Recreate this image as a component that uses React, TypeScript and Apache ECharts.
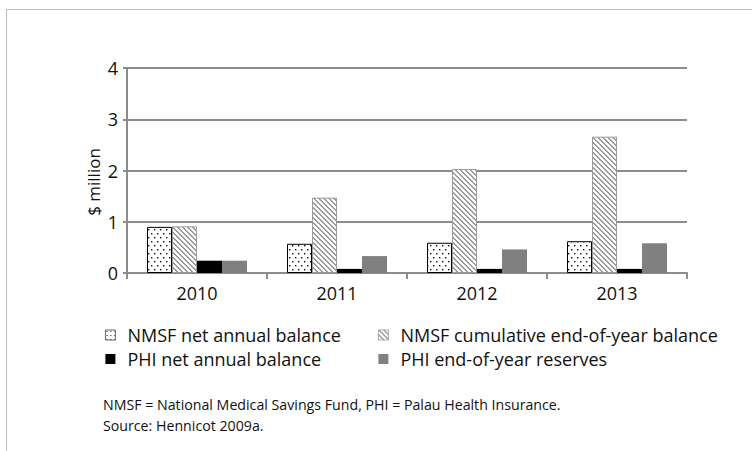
import React, { useEffect, useRef } from "react";
import * as echarts from "echarts";

const years = ["2010", "2011", "2012", "2013"];
const nmsfNet = [0.9, 0.57, 0.59, 0.62];
const nmsfCum = [0.91, 1.47, 2.03, 2.66];
const phiNet = [0.24, 0.08, 0.08, 0.08];
const phiRes = [0.24, 0.33, 0.46, 0.58];
const seriesNames = [
  "NMSF net annual balance",
  "NMSF cumulative end-of-year balance",
  "PHI net annual balance",
  "PHI end-of-year reserves",
];
const footLines = [
  "NMSF = National Medical Savings Fund, PHI = Palau Health Insurance.",
  "Source: Hennicot 2009a.",
];

const FONT = "'Open Sans', 'Noto Sans', sans-serif";
const TEXT = "#111";

function dotCanvas() {
  const c = document.createElement("canvas");
  c.width = 6;
  c.height = 8;
  const ctx = c.getContext("2d")!;
  ctx.fillStyle = "#fff";
  ctx.fillRect(0, 0, 6, 8);
  ctx.fillStyle = "#111";
  ctx.fillRect(1, 1, 1.4, 1.4);
  ctx.fillRect(4, 5, 1.4, 1.4);
  return c;
}

function hatchCanvas() {
  const n = 5;
  const c = document.createElement("canvas");
  c.width = n;
  c.height = n;
  const ctx = c.getContext("2d")!;
  ctx.fillStyle = "#fff";
  ctx.fillRect(0, 0, n, n);
  ctx.fillStyle = "#9a9a9a";
  for (let i = 0; i < n; i++) {
    ctx.fillRect(i, i, 1, 1);
    ctx.fillRect((i + 1) % n, i, 1, 1);
  }
  return c;
}

function legendDotCanvas() {
  const c = document.createElement("canvas");
  c.width = 4;
  c.height = 4;
  const ctx = c.getContext("2d")!;
  ctx.fillStyle = "#fff";
  ctx.fillRect(0, 0, 4, 4);
  ctx.fillStyle = "#222";
  ctx.fillRect(1, 1, 1, 1);
  return c;
}

export default function App() {
  const ref = useRef<HTMLDivElement>(null);
  useEffect(() => {
    if (!ref.current) return;
    const chart = echarts.init(ref.current, undefined, { renderer: "svg" });
    const dots = dotCanvas();
    const hatch = hatchCanvas();
    const dotFill: any = { image: dots, repeat: "repeat", imageWidth: 6, imageHeight: 8 };
    const hatchFill: any = { image: hatch, repeat: "repeat", imageWidth: 5, imageHeight: 5 };
    const legDot: any = { image: legendDotCanvas(), repeat: "repeat", imageWidth: 4, imageHeight: 4 };
    const gridColor = "#8c8c8c";
    const legendText = { fontSize: 18, color: TEXT, fontFamily: FONT, padding: [0, 0, 0, 7] };
    chart.setOption({
      animation: false,
      backgroundColor: "#fff",
      textStyle: { fontFamily: FONT },
      grid: { left: 127, right: 65, top: 68, bottom: 178, containLabel: false },
      xAxis: {
        type: "category",
        data: years,
        axisLine: { lineStyle: { color: gridColor, width: 2 } },
        axisTick: { show: true, length: 6, lineStyle: { color: gridColor, width: 2 } },
        axisLabel: { color: TEXT, fontSize: 18, margin: 11, fontFamily: FONT },
      },
      yAxis: {
        type: "value",
        min: 0,
        max: 4,
        interval: 1,
        axisLine: { show: true, lineStyle: { color: gridColor, width: 2 } },
        axisTick: { show: true, length: 4, lineStyle: { color: gridColor, width: 2 } },
        axisLabel: { color: TEXT, fontSize: 18, margin: 9, fontFamily: FONT },
        splitLine: { show: true, lineStyle: { color: gridColor, width: 2 } },
      },
      legend: [
        {
          data: [
            {
              name: seriesNames[0],
              itemStyle: { color: legDot, borderColor: "#444", borderWidth: 0.8 },
            },
            { name: seriesNames[2], itemStyle: { borderWidth: 0 } },
          ],
          orient: "vertical",
          left: 100,
          top: 321,
          icon: "rect",
          itemWidth: 10,
          itemHeight: 10,
          itemGap: 6,
          textStyle: legendText,
        },
        {
          data: [
            {
              name: seriesNames[1],
              itemStyle: { borderColor: "#9a9a9a", borderWidth: 0.8 },
            },
            { name: seriesNames[3], itemStyle: { borderWidth: 0 } },
          ],
          orient: "vertical",
          left: 373,
          top: 321,
          icon: "rect",
          itemWidth: 10,
          itemHeight: 10,
          itemGap: 6,
          textStyle: legendText,
        },
      ],
      series: [
        {
          name: seriesNames[0],
          type: "bar",
          data: nmsfNet,
          barWidth: 25,
          barGap: "0%",
          itemStyle: { color: dotFill, borderColor: "#000", borderWidth: 1 },
        },
        {
          name: seriesNames[1],
          type: "bar",
          data: nmsfCum,
          barWidth: 25,
          barGap: "0%",
          itemStyle: { color: hatchFill, borderColor: "#9a9a9a", borderWidth: 1 },
        },
        {
          name: seriesNames[2],
          type: "bar",
          data: phiNet,
          barWidth: 25,
          barGap: "0%",
          itemStyle: { color: "#000" },
        },
        {
          name: seriesNames[3],
          type: "bar",
          data: phiRes,
          barWidth: 25,
          barGap: "0%",
          itemStyle: { color: "#808080" },
        },
      ],
      graphic: [
        {
          type: "line",
          shape: { x1: 6, y1: 9.5, x2: 752, y2: 9.5 },
          style: { stroke: "#bdbdbd", lineWidth: 1 },
          silent: true,
        },
        {
          type: "line",
          shape: { x1: 6.5, y1: 9, x2: 6.5, y2: 451 },
          style: { stroke: "#bdbdbd", lineWidth: 1 },
          silent: true,
        },
        {
          type: "text",
          x: 93,
          y: 182,
          rotation: Math.PI / 2,
          style: {
            text: "$ million",
            fontSize: 17,
            fontFamily: FONT,
            fill: TEXT,
            align: "center",
            verticalAlign: "middle",
          },
        },
        {
          type: "text",
          x: 103,
          y: 394,
          style: {
            text: footLines.join("\n"),
            fontSize: 14.2,
            lineHeight: 21,
            fontFamily: FONT,
            fill: TEXT,
            align: "left",
            verticalAlign: "top",
          },
        },
      ],
    });
    return () => chart.dispose();
  }, []);
  return (
    <div
      ref={ref}
      style={{ position: "fixed", left: 0, top: 0, width: 752, height: 451 }}
    />
  );
}
